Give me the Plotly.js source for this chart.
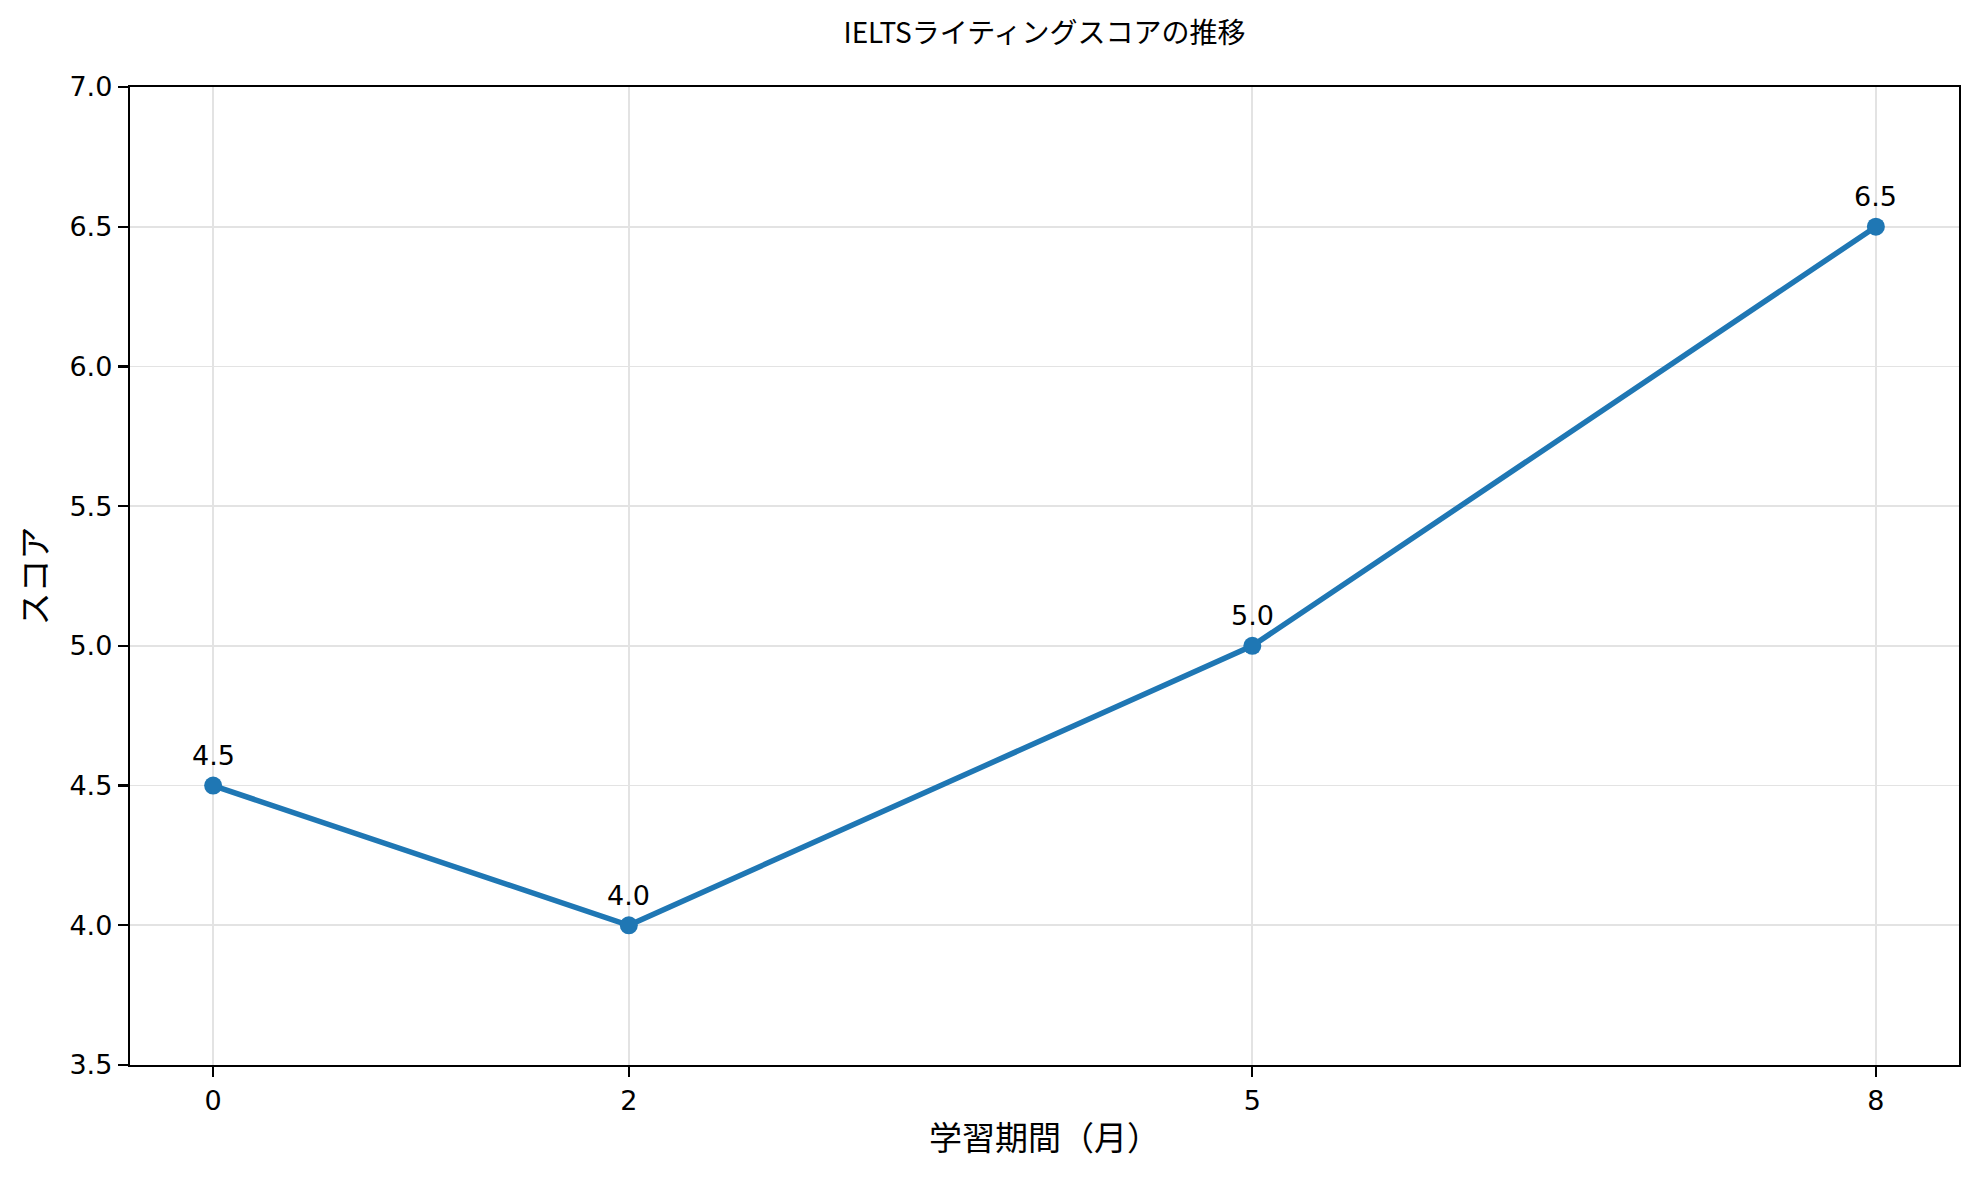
<!DOCTYPE html>
<html>
<head>
<meta charset="utf-8">
<script src="https://cdn.plot.ly/plotly-3.0.1.min.js"></script>
<style>html,body{margin:0;padding:0;background:#fff;}#chart{width:1979px;height:1180px;}</style>
</head>
<body>
<div id="chart"></div>
<script>
const months = [0, 2, 5, 8];
const scores = [4.5, 4.0, 5.0, 6.5];
const xTickVals = [0, 2, 5, 8];
const xTickText = ['0', '2', '5', '8'];
const titleText = 'IELTSライティングスコアの推移';
const xTitle = '学習期間（月）';
const yTitle = 'スコア';

const trace = {
  x: months,
  y: scores,
  type: 'scatter',
  mode: 'lines+markers',
  line: {color: '#1f77b4', width: 5.5},
  marker: {color: '#1f77b4', size: 18},
  hoverinfo: 'skip'
};

const annotations = months.map((m, i) => ({
  x: m, y: scores[i], xref: 'x', yref: 'y',
  text: scores[i].toFixed(1), showarrow: false,
  yshift: 30,
  font: {family: 'DejaVu Sans', size: 27, color: '#000'}
}));

const axisCommon = {
  showline: true, linecolor: '#000', linewidth: 2.2, mirror: true,
  ticks: 'outside', ticklen: 10, tickwidth: 2.2, tickcolor: '#000',
  showgrid: true, gridcolor: '#e3e3e3', gridwidth: 1.8,
  zeroline: false,
  tickfont: {family: 'DejaVu Sans', size: 27, color: '#000'}
};

const layout = {
  width: 1979, height: 1180,
  paper_bgcolor: '#fff', plot_bgcolor: '#fff',
  margin: {l: 130, r: 20, t: 87, b: 115},
  showlegend: false,
  title: {text: titleText, x: 0.5, xref: 'paper', xanchor: 'center', y: 1 - 33/1180, yanchor: 'middle',
    font: {family: 'Noto Sans CJK JP', size: 28, color: '#000'}},
  xaxis: Object.assign({}, axisCommon, {
    range: [-0.4, 8.4], tickmode: 'array', tickvals: xTickVals, ticktext: xTickText,
    title: {text: xTitle, standoff: 12, font: {family: 'Noto Sans CJK JP', size: 33, color: '#000'}}
  }),
  yaxis: Object.assign({}, axisCommon, {
    range: [3.5, 7.0], dtick: 0.5, tick0: 3.5, tickformat: '.1f',
    title: {text: yTitle, standoff: 12, font: {family: 'Noto Sans CJK JP', size: 33, color: '#000'}}
  }),
  annotations: annotations
};

Plotly.newPlot('chart', [trace], layout, {displayModeBar: false, staticPlot: true});
</script>
</body>
</html>
